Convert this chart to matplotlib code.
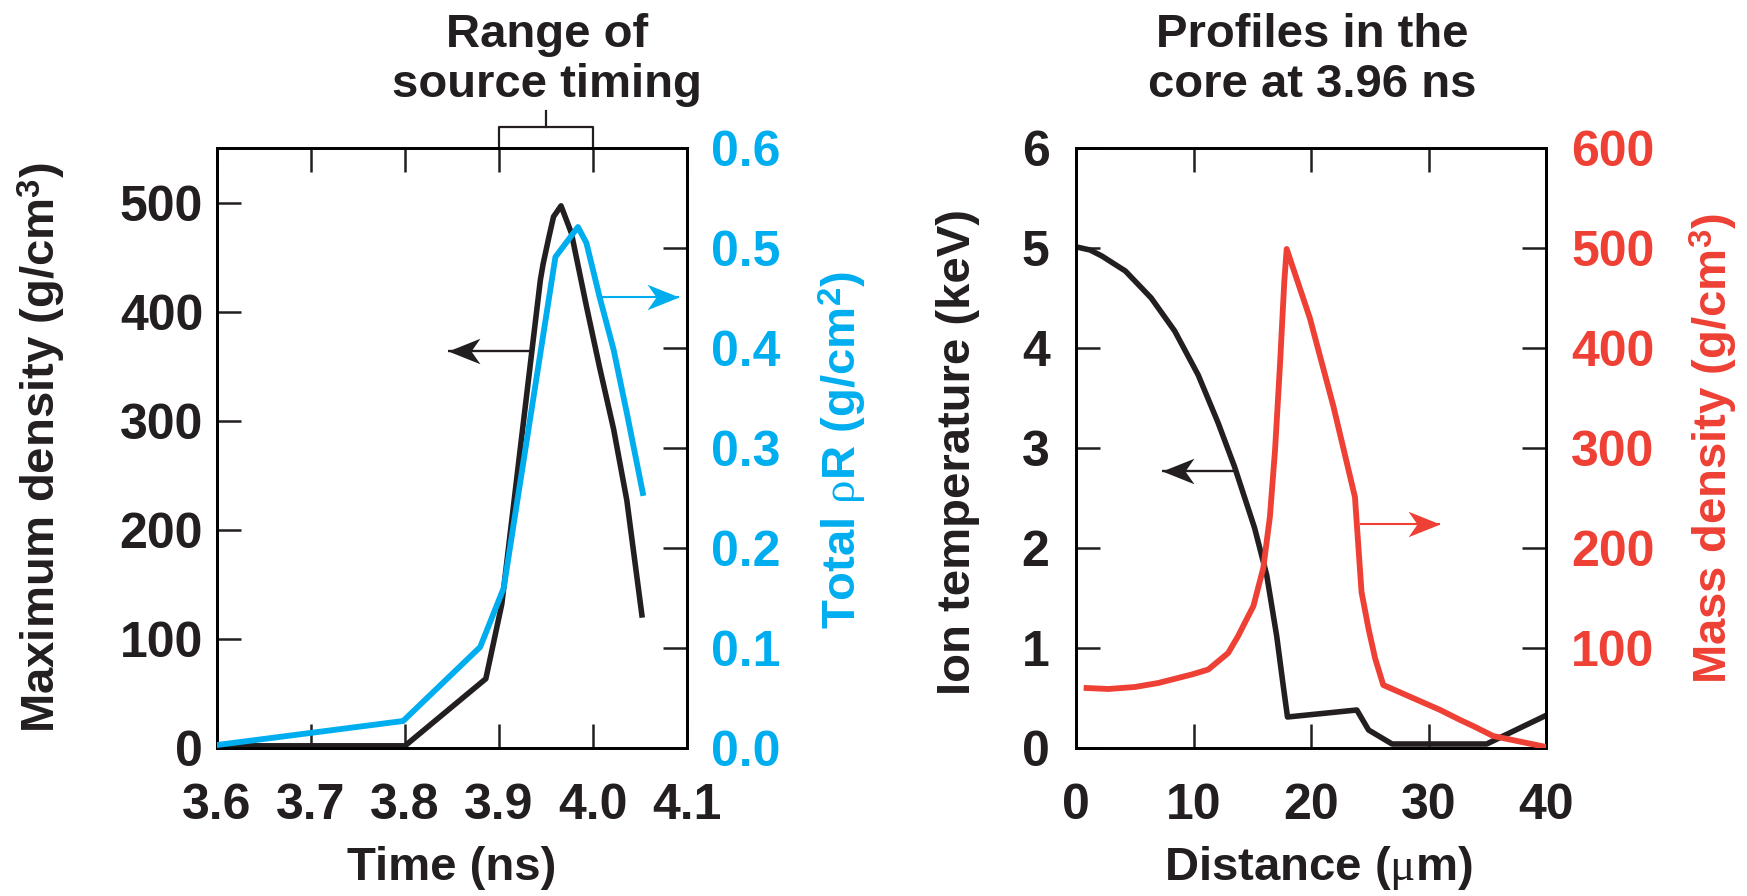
import matplotlib
matplotlib.use("Agg")
import matplotlib.pyplot as plt
from matplotlib.path import Path
import matplotlib.transforms as mtransforms

# ---------------- data ----------------
time_density = [3.6, 3.8, 3.886, 3.903, 3.935, 3.944, 3.947, 3.953, 3.958, 3.966, 3.977, 3.993, 4.007, 4.022, 4.036, 4.052]
max_density = [2, 2, 63.5, 132, 364, 429, 444, 468, 487, 497, 472, 405, 349, 292, 227, 122]

time_rhoR = [3.6, 3.798, 3.880, 3.905, 3.960, 3.984, 3.993, 4.007, 4.022, 4.036, 4.053]
total_rhoR = [0.003, 0.027, 0.101, 0.160, 0.491, 0.521, 0.505, 0.451, 0.398, 0.335, 0.255]

dist_T = [0.06, 1.2, 2.2, 4.2, 6.4, 8.4, 10.4, 12.1, 13.5, 15.2, 16.23, 17.08, 17.64, 18.0, 23.9, 24.9, 26.9, 34.95, 39.9]
ion_T = [5.01, 4.98, 4.92, 4.77, 4.50, 4.17, 3.73, 3.25, 2.81, 2.20, 1.73, 1.12, 0.62, 0.31, 0.38, 0.18, 0.04, 0.04, 0.32]

dist_rho = [0.9, 2.75, 5.0, 7.0, 9.85, 11.26, 12.95, 13.8, 14.4, 15.1, 15.94, 16.5, 16.94, 17.36, 17.73, 17.93,
            19.9, 21.9, 23.74, 24.3, 24.9, 25.45, 26.15, 31.0, 32.7, 33.8, 35.5, 40.0]
mass_rho = [60, 59, 61, 65, 73.5, 78.5, 95, 112, 126, 142, 180, 231, 298, 383, 467, 499,
            430, 342, 251, 156, 119, 90, 63, 38, 28, 22, 12, 1]

time_ticks = [3.6, 3.7, 3.8, 3.9, 4.0, 4.1]
density_ticks = [0, 100, 200, 300, 400, 500]
rhoR_ticks = [0.0, 0.1, 0.2, 0.3, 0.4, 0.5, 0.6]
dist_ticks = [0, 10, 20, 30, 40]
temp_ticks = [0, 1, 2, 3, 4, 5, 6]
mass_ticks = [100, 200, 300, 400, 500, 600]

# annotation arrows: (start, tip)
arrow_density = ((3.935, 364), (3.846, 364))
arrow_rhoR = ((4.007, 0.451), (4.092, 0.451))
arrow_temp = ((13.7, 2.77), (7.35, 2.77))
arrow_mass = ((24.2, 224), (31.0, 224))
source_range = (3.9, 4.0)

# ---------------- style ----------------
BLACK = "#231F20"
BLUE = "#00AEEF"
RED = "#EE4035"
FS = 34
FS_TICK = 36
plt.rcParams["font.family"] = ["Liberation Sans", "DejaVu Sans"]
plt.rcParams["font.weight"] = "bold"
plt.rcParams["mathtext.fontset"] = "custom"
plt.rcParams["mathtext.rm"] = "Liberation Sans:bold"
plt.rcParams["mathtext.bf"] = "Liberation Sans:bold"
plt.rcParams["mathtext.it"] = "Liberation Serif:weight=normal:style=normal"
plt.rcParams["axes.linewidth"] = 2.0

W, H = 1747, 896
fig = plt.figure(figsize=(W / 100, H / 100), dpi=100)


def px_axes(x0, x1, y0, y1):
    return fig.add_axes([x0 / W, (H - y1) / H, (x1 - x0) / W, (y1 - y0) / H])


def head_marker(direction):
    s = 1 if direction == "right" else -1
    verts = [(0, 0), (-s * 1.0, 0.4), (-s * 0.72, 0), (-s * 1.0, -0.4), (0, 0)]
    codes = [Path.MOVETO, Path.LINETO, Path.LINETO, Path.LINETO, Path.CLOSEPOLY]
    return Path(verts, codes)


def draw_arrow(ax, arrow, color, lw):
    (x0, y0), (x1, y1) = arrow
    ax.plot([x0, x1], [y0, y1], color=color, lw=lw, solid_capstyle="butt", zorder=5)
    direction = "right" if x1 > x0 else "left"
    ax.plot([x1], [y1], marker=head_marker(direction), markersize=46, color=color,
            markeredgewidth=0, zorder=6, clip_on=False)


def style_ticks(ax, which, pad, color=BLACK):
    ax.tick_params(axis=which, direction="in", length=17, width=1.8, pad=pad,
                   labelsize=FS_TICK, labelcolor=color, color=BLACK)


# ---------------- left panel ----------------
ax1 = px_axes(217, 687, 148, 748)
ax1b = ax1.twinx()
ax1.plot(time_density, max_density, color=BLACK, lw=4.0, solid_joinstyle="round", zorder=3)
ax1b.plot(time_rhoR, total_rhoR, color=BLUE, lw=4.2, solid_joinstyle="round", zorder=3)
ax1.set_xlim(3.6, 4.1)
ax1.set_ylim(0, 550)
ax1b.set_ylim(0, 0.6)
ax1.set_xticks(time_ticks)
ax1.set_xticklabels([f"{t:.1f}" for t in time_ticks])
ax1.set_yticks(density_ticks)
ax1.set_yticklabels([str(v) for v in density_ticks])
ax1b.set_yticks(rhoR_ticks)
ax1b.set_yticklabels([f"{v:.1f}" for v in rhoR_ticks])
ax1.tick_params(top=True, right=False)
style_ticks(ax1, "x", 25)
style_ticks(ax1, "y", 10)
style_ticks(ax1b, "y", 17, BLUE)
for t in ax1.get_xticklabels() + ax1.get_yticklabels() + ax1b.get_yticklabels():
    t.set_fontweight("bold")

draw_arrow(ax1, arrow_density, BLACK, 1.7)
draw_arrow(ax1b, arrow_rhoR, BLUE, 1.5)

# bracket for range of source timing
trans = mtransforms.blended_transform_factory(ax1.transData, ax1.transAxes)
r0, r1 = source_range
ax1.plot([r0, r0, r1, r1], [1.0, 1.035, 1.035, 1.0], color=BLACK, lw=1.6,
         transform=trans, clip_on=False)
ax1.plot([(r0 + r1) / 2] * 2, [1.035, 1.062], color=BLACK, lw=1.6,
         transform=trans, clip_on=False)

# ---------------- right panel ----------------
ax2 = px_axes(1076, 1546, 148, 748)
ax2b = ax2.twinx()
ax2.plot(dist_T, ion_T, color=BLACK, lw=4.0, solid_joinstyle="round", zorder=3)
ax2b.plot(dist_rho, mass_rho, color=RED, lw=4.2, solid_joinstyle="round", zorder=3)
ax2.set_xlim(0, 40)
ax2.set_ylim(0, 6)
ax2b.set_ylim(0, 600)
ax2.set_xticks(dist_ticks)
ax2.set_xticklabels([str(v) for v in dist_ticks])
ax2.set_yticks(temp_ticks)
ax2.set_yticklabels([str(v) for v in temp_ticks])
ax2b.set_yticks(mass_ticks)
ax2b.set_yticklabels([str(v) for v in mass_ticks])
ax2.tick_params(top=True, right=False)
style_ticks(ax2, "x", 25)
style_ticks(ax2, "y", 19)
style_ticks(ax2b, "y", 18, RED)
for t in ax2.get_xticklabels() + ax2.get_yticklabels() + ax2b.get_yticklabels():
    t.set_fontweight("bold")

draw_arrow(ax2, arrow_temp, BLACK, 1.7)
draw_arrow(ax2b, arrow_mass, RED, 1.5)

# ---------------- labels ----------------
def ftext(x, y, s, **kw):
    kw.setdefault("fontsize", FS)
    kw.setdefault("fontweight", "bold")
    fig.text(x / W, (H - y) / H, s, **kw)

ftext(42, 448, "Maximum density (g/cm$^3$)", rotation=90, ha="center", va="center", color=BLACK)
ftext(843, 450, r"Total $\rho$R (g/cm$^2$)", rotation=90, ha="center", va="center", color=BLUE)
ftext(958, 452, "Ion temperature (keV)", rotation=90, ha="center", va="center", color=BLACK)
ftext(1714, 448, "Mass density (g/cm$^3$)", rotation=90, ha="center", va="center", color=RED)
ftext(452, 880, "Time (ns)", ha="center", va="baseline", color=BLACK)
ftext(1318, 880, r"Distance ($\mu$m)", ha="center", va="baseline", color=BLACK)

ftext(547, 47, "Range of", ha="center", va="baseline", color=BLACK)
ftext(547, 97, "source timing", ha="center", va="baseline", color=BLACK)
ftext(1312, 47, "Profiles in the", ha="center", va="baseline", color=BLACK)
ftext(1312, 97, "core at 3.96 ns", ha="center", va="baseline", color=BLACK)

fig.savefig("out.png", dpi=100)
